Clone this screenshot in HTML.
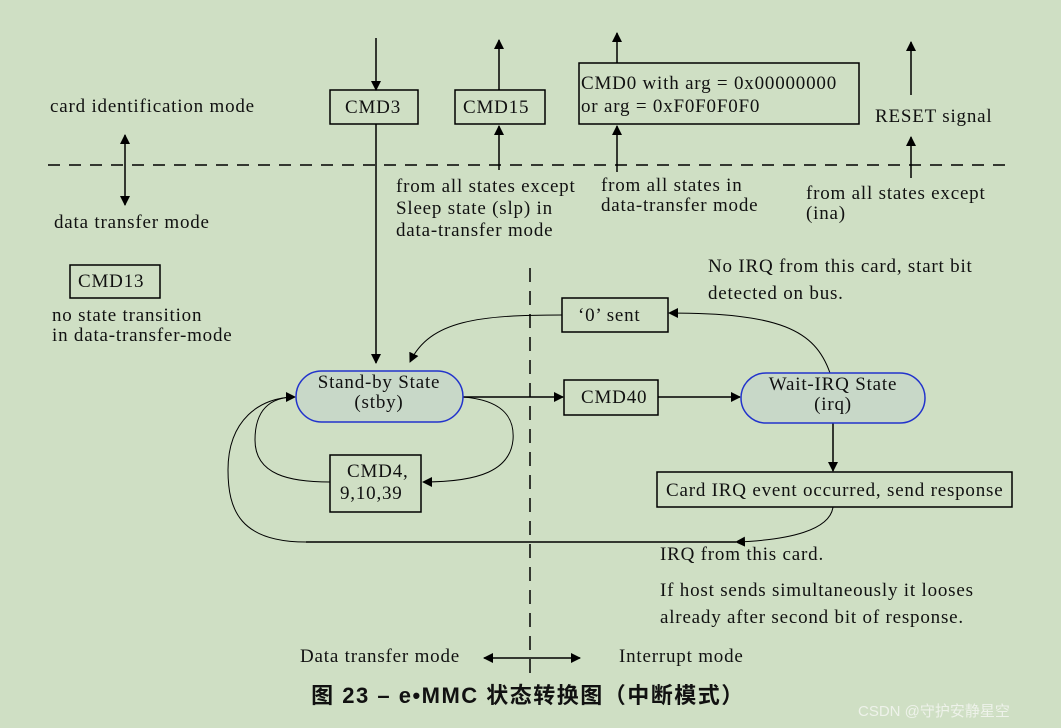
<!DOCTYPE html>
<html><head><meta charset="utf-8"><style>
html,body{margin:0;padding:0;background:#cfdfc4;}
svg{display:block;}
text{font-family:"Liberation Serif",serif;font-size:19px;letter-spacing:0.8px;fill:#111;}
</style></head><body>
<svg width="1061" height="728" viewBox="0 0 1061 728" xmlns="http://www.w3.org/2000/svg">
<defs>
<marker id="a" markerWidth="10" markerHeight="10" refX="9" refY="5" orient="auto" markerUnits="userSpaceOnUse"><path d="M0,0 L10,5 L0,10 z" fill="#000"/></marker>
<marker id="s" markerWidth="10" markerHeight="10" refX="1" refY="5" orient="auto" markerUnits="userSpaceOnUse"><path d="M10,0 L0,5 L10,10 z" fill="#000"/></marker>
</defs>
<rect width="1061" height="728" fill="#cfdfc4"/>
<g stroke="#000" stroke-width="1.5" fill="none">
<line x1="48" y1="165" x2="1012" y2="165" stroke-dasharray="12,9"/>
<line x1="530" y1="268" x2="530" y2="680" stroke-dasharray="14,9"/>
<line x1="125" y1="135" x2="125" y2="205" marker-start="url(#s)" marker-end="url(#a)"/>
<rect x="70" y="265" width="90" height="33"/>
<rect x="330" y="90" width="88" height="34"/>
<line x1="376" y1="38" x2="376" y2="90" marker-end="url(#a)"/>
<line x1="376" y1="124" x2="376" y2="363" marker-end="url(#a)"/>
<rect x="455" y="90" width="90" height="34"/>
<line x1="499" y1="90" x2="499" y2="40" marker-end="url(#a)"/>
<line x1="499" y1="170" x2="499" y2="126" marker-end="url(#a)"/>
<rect x="579" y="63" width="280" height="61"/>
<line x1="617" y1="63" x2="617" y2="33" marker-end="url(#a)"/>
<line x1="617" y1="172" x2="617" y2="126" marker-end="url(#a)"/>
<line x1="911" y1="95" x2="911" y2="42" marker-end="url(#a)"/>
<line x1="911" y1="178" x2="911" y2="137" marker-end="url(#a)"/>
<rect x="562" y="298" width="106" height="34"/>
<rect x="564" y="380" width="94" height="35"/>
<rect x="330" y="455" width="91" height="57"/>
<rect x="657" y="472" width="355" height="35"/>
<line x1="463" y1="397" x2="563" y2="397" marker-end="url(#a)"/>
<line x1="658" y1="397" x2="740" y2="397" marker-end="url(#a)"/>
<line x1="833" y1="423" x2="833" y2="471" marker-end="url(#a)"/>
<path d="M830,373 C815,330 780,313 669,313" stroke-width="1" marker-end="url(#a)"/>
<path d="M562,315 C480,315 430,320 410,362" stroke-width="1" marker-end="url(#a)"/>
<path d="M463,397 C500,400 515,415 513,440 C510,470 480,482 423,482" stroke-width="1" marker-end="url(#a)"/>
<path d="M330,482 C290,482 255,475 255,440 C255,410 270,397 295,397" stroke-width="1" marker-end="url(#a)"/>
<path d="M833,507 C830,530 790,540 736,542" stroke-width="1" marker-end="url(#a)"/>
<line x1="736" y1="542" x2="306" y2="542"/>
<path d="M306,542 C240,542 228,510 228,470 C228,420 260,397 295,397" stroke-width="1"/>
<line x1="484" y1="658" x2="580" y2="658" marker-start="url(#s)" marker-end="url(#a)"/>
</g>
<rect x="296" y="371" width="167" height="51" rx="25.5" fill="#c8d8c8" stroke="#2233cc" stroke-width="1.5"/>
<rect x="741" y="373" width="184" height="50" rx="25" fill="#c8d8c8" stroke="#2233cc" stroke-width="1.5"/>
<text x="50" y="112">card identification mode</text>
<text x="54" y="228">data transfer mode</text>
<text x="78" y="287">CMD13</text>
<text x="52" y="321">no state transition</text>
<text x="52" y="341">in data-transfer-mode</text>
<text x="345" y="113">CMD3</text>
<text x="463" y="113">CMD15</text>
<text x="581" y="89">CMD0 with arg = 0x00000000</text>
<text x="581" y="112">or arg = 0xF0F0F0F0</text>
<text x="875" y="122">RESET signal</text>
<text x="396" y="192">from all states except</text>
<text x="396" y="214">Sleep state (slp) in</text>
<text x="396" y="236">data-transfer mode</text>
<text x="601" y="191">from all states in</text>
<text x="601" y="211">data-transfer mode</text>
<text x="806" y="199">from all states except</text>
<text x="806" y="219">(ina)</text>
<text x="708" y="272">No IRQ from this card, start bit</text>
<text x="708" y="299">detected on bus.</text>
<text x="578" y="321">‘0’ sent</text>
<text x="379" y="388" text-anchor="middle">Stand-by State</text>
<text x="379" y="408" text-anchor="middle">(stby)</text>
<text x="833" y="390" text-anchor="middle">Wait-IRQ State</text>
<text x="833" y="410" text-anchor="middle">(irq)</text>
<text x="581" y="403">CMD40</text>
<text x="347" y="477">CMD4,</text>
<text x="340" y="499">9,10,39</text>
<text x="666" y="496">Card IRQ event occurred, send response</text>
<text x="660" y="560">IRQ from this card.</text>
<text x="660" y="596">If host sends simultaneously it looses</text>
<text x="660" y="623">already after second bit of response.</text>
<text x="300" y="662">Data transfer mode</text>
<text x="619" y="662">Interrupt mode</text>
<text x="528" y="703" text-anchor="middle" style="font-family:'Liberation Sans','Noto Sans CJK SC',sans-serif;font-weight:bold;font-size:22px;letter-spacing:1.5px;">图 23 – e•MMC 状态转换图（中断模式）</text>
<text x="858" y="716" style="font-family:'Liberation Sans','Noto Sans CJK SC',sans-serif;font-size:15px;letter-spacing:0;fill:#eef2ea;">CSDN @守护安静星空</text>
</svg>
</body></html>
